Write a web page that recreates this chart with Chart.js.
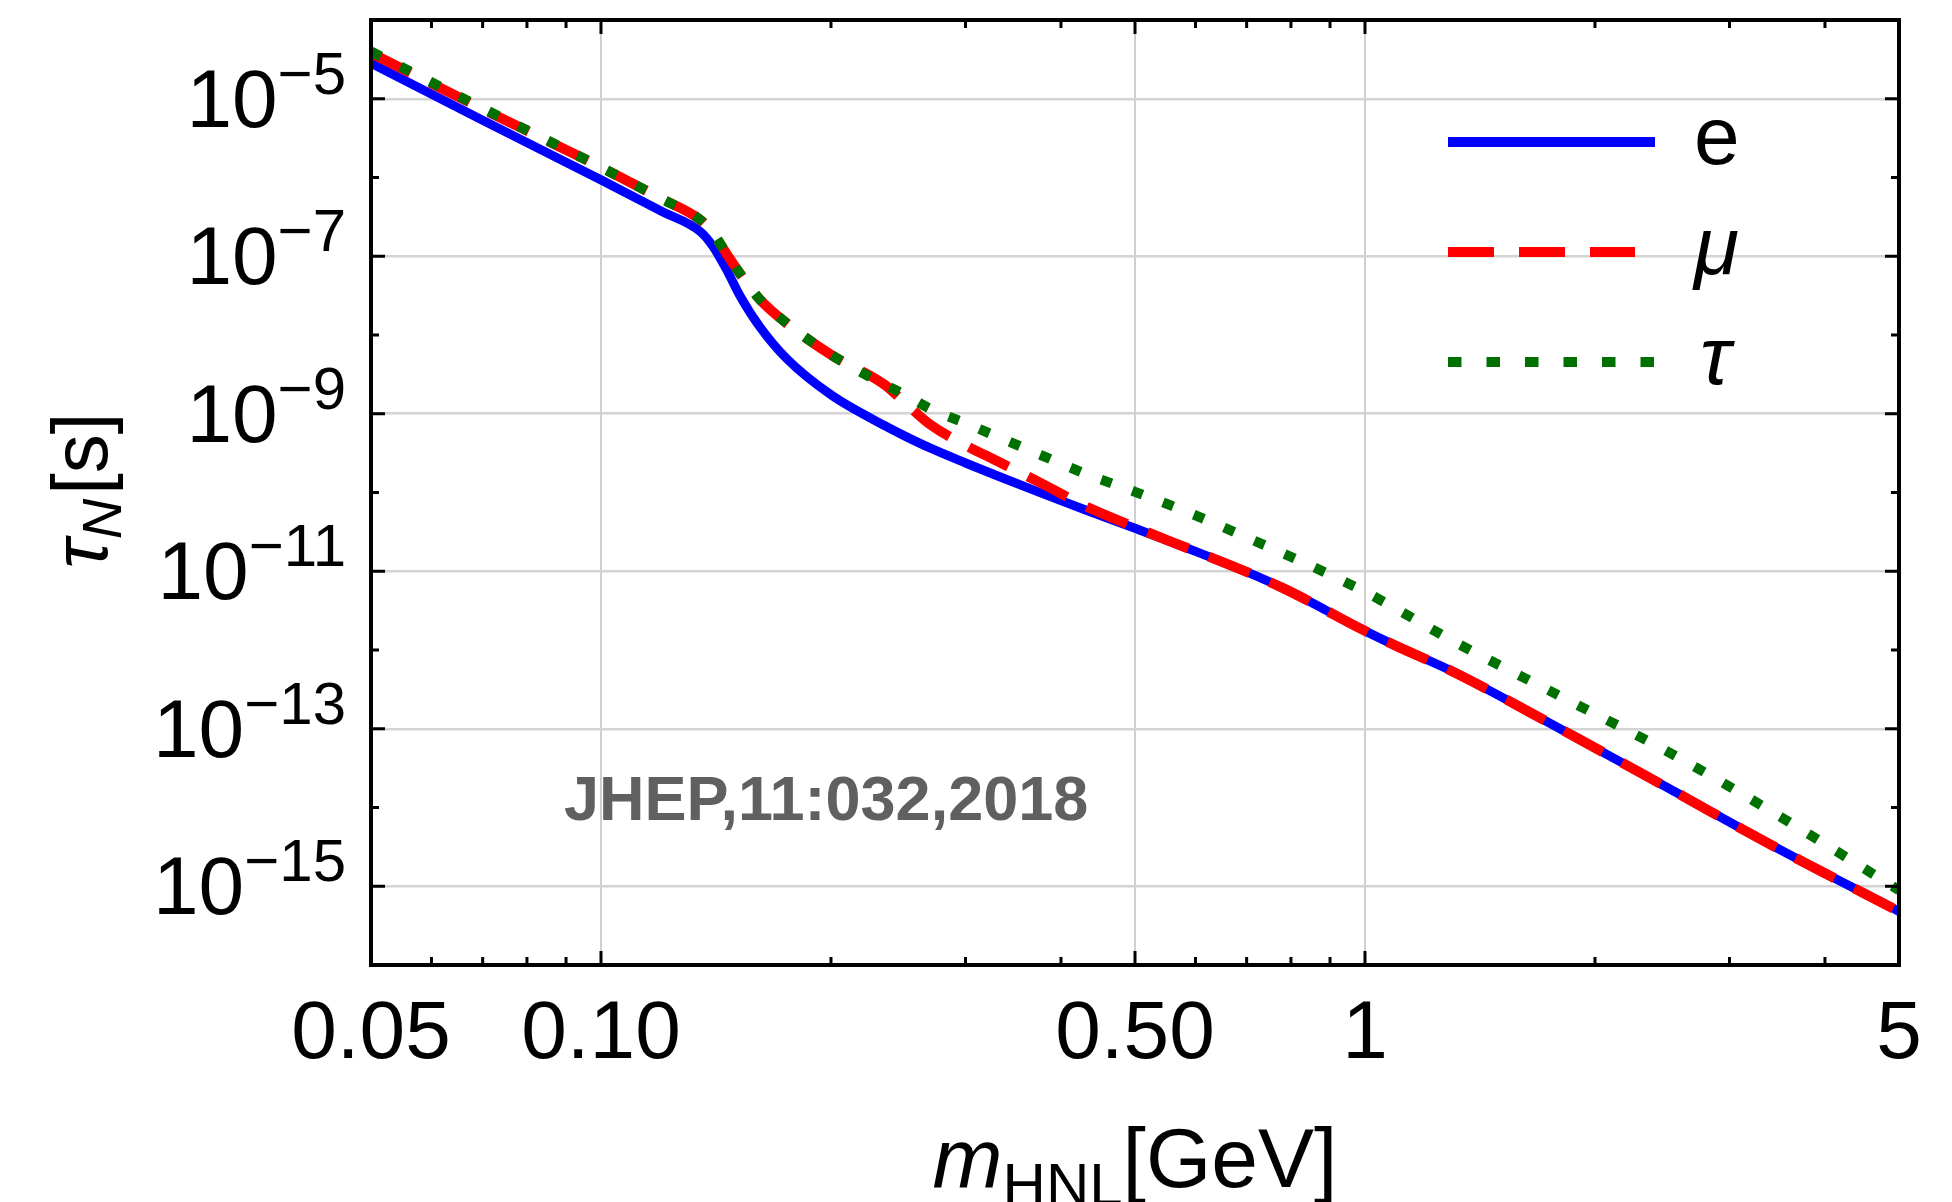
<!DOCTYPE html>
<html>
<head>
<meta charset="utf-8">
<script src="https://cdn.jsdelivr.net/npm/chart.js@4.4.0/dist/chart.umd.min.js"></script>
<style>
  html, body { margin: 0; background: #fff; }
  canvas { display: block; }
</style>
</head>
<body>
<canvas id="chart" width="1952" height="1202"></canvas>
<script>
// HNL mass in GeV
const masses = [0.05, 0.07, 0.1, 0.12, 0.135, 0.14, 0.146, 0.152, 0.1615, 0.175, 0.2, 0.235, 0.25, 0.27, 0.3, 0.33,
  0.38, 0.43, 0.5, 0.6, 0.7, 0.78, 0.85, 0.92, 1.0, 1.1, 1.3, 1.8, 2.5, 3.5, 5.0];

// lifetime in seconds, one list per flavour
const tauE = [2.82e-5, 5.33e-6, 9.33e-7, 3.72e-7, 2.04e-7, 1.35e-7, 6.76e-8, 3.16e-8, 1.26e-8, 5.01e-9, 1.74e-9,
  7.08e-10, 5.20e-10, 3.65e-10, 2.37e-10, 1.63e-10, 9.55e-11, 6.04e-11, 3.51e-11, 1.79e-11, 9.79e-12, 6.15e-12,
  4.04e-12, 2.67e-12, 1.75e-12, 1.12e-12, 5.37e-13, 1.0e-13, 1.74e-14, 2.88e-15, 4.79e-16];
const tauMu = [3.80e-5, 7.41e-6, 1.35e-6, 5.37e-7, 2.88e-7, 2.00e-7, 1.07e-7, 6.03e-8, 2.82e-8, 1.41e-8, 5.62e-9,
  2.34e-9, 1.38e-9, 7.24e-10, 3.98e-10, 2.51e-10, 1.26e-10, 6.76e-11, 3.63e-11, 1.79e-11, 9.79e-12, 6.15e-12,
  4.04e-12, 2.67e-12, 1.75e-12, 1.12e-12, 5.37e-13, 1.0e-13, 1.74e-14, 2.88e-15, 4.79e-16];
const tauTau = [3.98e-5, 7.59e-6, 1.35e-6, 5.37e-7, 2.88e-7, 2.00e-7, 1.07e-7, 6.03e-8, 2.82e-8, 1.41e-8, 5.62e-9,
  2.34e-9, 1.74e-9, 1.15e-9, 7.59e-10, 5.13e-10, 2.88e-10, 1.74e-10, 1.02e-10, 5.13e-11, 2.69e-11, 1.70e-11,
  1.17e-11, 8.13e-12, 5.50e-12, 3.31e-12, 1.32e-12, 2.60e-13, 5.01e-14, 7.59e-15, 8.91e-16];

const seriesNames = ['e', 'μ', 'τ'];
const xTickValues = [0.05, 0.1, 0.5, 1, 5];
const xTickLabels = ['0.05', '0.10', '0.50', '1', '5'];
const xMinorTicks = [0.06, 0.07, 0.08, 0.09, 0.2, 0.3, 0.4, 0.6, 0.7, 0.8, 0.9, 2, 3, 4];
const yTickExponents = [-5, -7, -9, -11, -13, -15];
const yMinorExponents = [-6, -8, -10, -12, -14];
const note = 'JHEP,11:032,2018';

const FONT = '"Liberation Sans", Arial, sans-serif';
const colors = ['#0000ff', '#ff0000', '#007000'];

function toPoints(ys) {
  return masses.map((m, i) => ({ x: m, y: ys[i] }));
}

const decor = {
  id: 'decor',
  afterDraw(chart) {
    const ctx = chart.ctx;
    const a = chart.chartArea;
    const xs = chart.scales.x;
    const ys = chart.scales.y;
    ctx.save();

    // frame
    ctx.strokeStyle = '#000';
    ctx.lineWidth = 4;
    ctx.strokeRect(a.left, a.top, a.right - a.left, a.bottom - a.top);

    // inward ticks on all four sides
    ctx.lineWidth = 3;
    ctx.beginPath();
    const xt = (v, len) => {
      const px = xs.getPixelForValue(v);
      ctx.moveTo(px, a.bottom); ctx.lineTo(px, a.bottom - len);
      ctx.moveTo(px, a.top); ctx.lineTo(px, a.top + len);
    };
    const yt = (v, len) => {
      const py = ys.getPixelForValue(v);
      ctx.moveTo(a.left, py); ctx.lineTo(a.left + len, py);
      ctx.moveTo(a.right, py); ctx.lineTo(a.right - len, py);
    };
    xTickValues.forEach(v => xt(v, 14));
    xMinorTicks.forEach(v => xt(v, 8));
    yTickExponents.forEach(e => yt(Math.pow(10, e), 14));
    yMinorExponents.forEach(e => yt(Math.pow(10, e), 8));
    ctx.stroke();

    // x tick labels
    ctx.fillStyle = '#000';
    ctx.font = `82px ${FONT}`;
    ctx.textAlign = 'center';
    ctx.textBaseline = 'alphabetic';
    xTickValues.forEach((v, i) => {
      ctx.fillText(xTickLabels[i], xs.getPixelForValue(v), a.bottom + 93);
    });

    // y tick labels 10^-n
    ctx.textAlign = 'left';
    yTickExponents.forEach(e => {
      const py = ys.getPixelForValue(Math.pow(10, e));
      const sup = '\u2212' + Math.abs(e);
      ctx.font = `82px ${FONT}`;
      const wb = ctx.measureText('10').width;
      ctx.font = `60px ${FONT}`;
      const ws = ctx.measureText(sup).width;
      const x0 = a.left - 25 - wb - ws;
      ctx.font = `82px ${FONT}`;
      ctx.fillText('10', x0, py + 28);
      ctx.font = `60px ${FONT}`;
      ctx.fillText(sup, x0 + wb, py - 5);
    });

    // x axis title: m_HNL[GeV]
    const cx = (a.left + a.right) / 2;
    ctx.font = `italic 84px ${FONT}`;
    const w1 = ctx.measureText('m').width;
    ctx.font = `60px ${FONT}`;
    const w2 = ctx.measureText('HNL').width;
    ctx.font = `84px ${FONT}`;
    const w3 = ctx.measureText('[GeV]').width;
    let x = cx - (w1 + w2 + w3) / 2;
    const by = a.bottom + 222;
    ctx.font = `italic 84px ${FONT}`;
    ctx.fillText('m', x, by); x += w1;
    ctx.font = `60px ${FONT}`;
    ctx.fillText('HNL', x, by + 18); x += w2;
    ctx.font = `84px ${FONT}`;
    ctx.fillText('[GeV]', x, by);

    // y axis title: tau_N[s]
    ctx.save();
    ctx.translate(107, (a.top + a.bottom) / 2);
    ctx.rotate(-Math.PI / 2);
    ctx.font = `italic 78px ${FONT}`;
    const t1 = ctx.measureText('τ').width;
    ctx.font = `italic 56px ${FONT}`;
    const t2 = ctx.measureText('N').width;
    ctx.font = `78px ${FONT}`;
    const t3 = ctx.measureText('[s]').width;
    let tx = -(t1 + t2 + t3) / 2;
    ctx.font = `italic 78px ${FONT}`;
    ctx.fillText('τ', tx, 0); tx += t1;
    ctx.font = `italic 56px ${FONT}`;
    ctx.fillText('N', tx, 14); tx += t2 + 4;
    ctx.font = `78px ${FONT}`;
    ctx.fillText('[s]', tx, 0);
    ctx.restore();

    // reference note
    ctx.fillStyle = '#606060';
    ctx.font = `bold 63px ${FONT}`;
    ctx.fillText(note, a.left + 193, a.top + 800);

    // legend
    const lx0 = a.right - 451;
    const dashes = [[], [46, 25], [13.5, 25]];
    const ends = [207, 187, 207];
    ctx.lineCap = 'butt';
    seriesNames.forEach((name, i) => {
      const ly = a.top + 122 + 110 * i;
      ctx.strokeStyle = colors[i];
      ctx.lineWidth = 10;
      ctx.setLineDash(dashes[i]);
      ctx.beginPath();
      ctx.moveTo(lx0, ly);
      ctx.lineTo(lx0 + ends[i], ly);
      ctx.stroke();
      ctx.setLineDash([]);
      ctx.fillStyle = '#000';
      ctx.font = (i === 0 ? '' : 'italic ') + `82px ${FONT}`;
      ctx.fillText(name, lx0 + 246 + (i === 2 ? 6 : 0), ly + 22);
    });

    ctx.restore();
  }
};

const ctx = document.getElementById('chart').getContext('2d');
const config = {
  type: 'line',
  data: {
    datasets: [{
      label: seriesNames[0],
      data: toPoints(tauE),
      borderColor: colors[0],
      borderWidth: 9,
      order: 3
    }, {
      label: seriesNames[1],
      data: toPoints(tauMu),
      borderColor: colors[1],
      borderWidth: 10,
      borderDash: [44, 22],
      borderCapStyle: 'butt',
      order: 2
    }, {
      label: seriesNames[2],
      data: toPoints(tauTau),
      borderColor: colors[2],
      borderWidth: 10,
      borderDash: [11, 22],
      borderCapStyle: 'butt',
      order: 1
    }]
  },
  options: {
    responsive: false,
    animation: false,
    devicePixelRatio: 1,
    layout: { padding: { top: 20, right: 53, left: 0, bottom: 0 } },
    elements: {
      point: { radius: 0 },
      line: { cubicInterpolationMode: 'monotone', fill: false }
    },
    plugins: {
      legend: { display: false },
      tooltip: { enabled: false }
    },
    scales: {
      x: {
        type: 'logarithmic',
        min: 0.05,
        max: 5,
        afterBuildTicks: s => { s.ticks = [0.1, 0.5, 1].map(v => ({ value: v })); },
        afterFit: s => { s.height = 237; },
        ticks: { display: false },
        border: { display: false },
        grid: { color: '#cfcfcf', lineWidth: 2, drawTicks: false }
      },
      y: {
        type: 'logarithmic',
        min: 1e-16,
        max: 1e-4,
        afterBuildTicks: s => { s.ticks = yTickExponents.map(e => ({ value: Math.pow(10, e) })); },
        afterFit: s => { s.width = 371; },
        ticks: { display: false },
        border: { display: false },
        grid: { color: '#d4d4d4', lineWidth: 2.5, drawTicks: false }
      }
    }
  },
  plugins: [decor]
};
const myChart = new Chart(ctx, config);
</script>
</body>
</html>
